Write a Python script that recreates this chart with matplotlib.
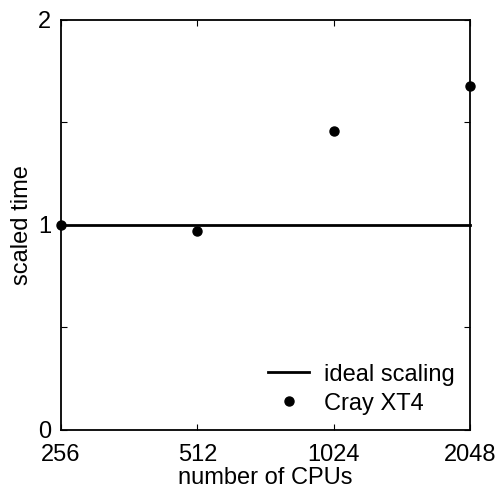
import numpy as np
import matplotlib.pyplot as plt

plt.rcParams['font.family'] = ['Liberation Sans', 'DejaVu Sans']

# measured scaled run time against number of cores
cpus = [256, 512, 1024, 2048]
scaled_time = [1.0, 0.97, 1.46, 1.68]
ideal = [1.0, 1.0, 1.0, 1.0]

yticks = [0, 0.5, 1, 1.5, 2]
yticklabels = ['0', '', '1', '', '2']

fig = plt.figure(figsize=(5.01, 4.94), dpi=100)
ax = fig.add_axes([0.1218, 0.1296, 0.8164, 0.8300])

ax.plot(cpus, ideal, 'k-', lw=2, label='ideal scaling', clip_on=False)
ax.plot(cpus, scaled_time, 'k.', ms=13, label='Cray XT4', clip_on=False)

ax.set_xscale('log', base=2)
ax.set_xlim(256, 2048)
ax.set_ylim(0, 2)
ax.set_xticks(cpus)
ax.set_xticklabels([str(c) for c in cpus])
ax.minorticks_off()
ax.set_yticks(yticks)
ax.set_yticklabels(yticklabels)

ax.tick_params(direction='in', top=True, right=True, labelsize=17,
               length=4, width=0.8)
ax.tick_params(axis='x', pad=10)
ax.tick_params(axis='y', pad=7)
for s in ax.spines.values():
    s.set_linewidth(1.3)

ax.set_xlabel('number of CPUs', fontsize=17, labelpad=1)
ax.set_ylabel('scaled time', fontsize=17, labelpad=4)

ax.legend(loc='lower right', frameon=False, fontsize=17,
          handlelength=1.7, handletextpad=0.65, labelspacing=0.3,
          borderaxespad=0.25)

plt.savefig('out.png', dpi=100)
